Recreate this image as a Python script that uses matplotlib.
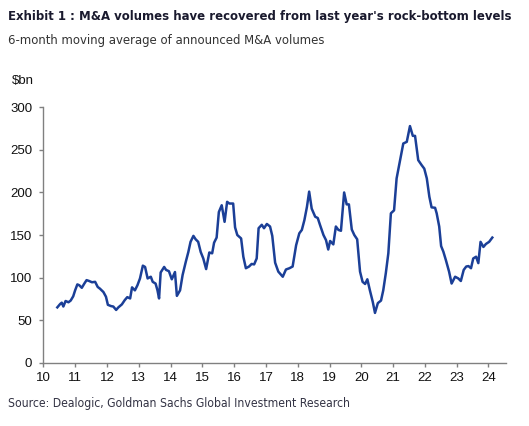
import matplotlib
matplotlib.use("Agg")
import matplotlib.pyplot as plt

# 6-month moving average of announced M&A volumes ($bn)
years = [10.44, 10.53, 10.58, 10.63, 10.70, 10.79, 10.86, 10.94, 11.00, 11.07,
         11.13, 11.21, 11.29, 11.36, 11.44, 11.53, 11.63, 11.71, 11.78, 11.89,
         11.97, 12.03, 12.13, 12.20, 12.29, 12.36, 12.47, 12.56, 12.64, 12.73,
         12.79, 12.88, 12.96, 13.04, 13.13, 13.20, 13.28, 13.38, 13.44, 13.53,
         13.59, 13.64, 13.69, 13.80, 13.86, 13.95, 14.04, 14.14, 14.20, 14.30,
         14.38, 14.48, 14.56, 14.63, 14.72, 14.79, 14.87, 14.95, 15.03, 15.12,
         15.22, 15.31, 15.37, 15.45, 15.52, 15.61, 15.70, 15.78, 15.85, 15.97,
         16.03, 16.10, 16.22, 16.29, 16.37, 16.47, 16.55, 16.63, 16.71, 16.77,
         16.87, 16.94, 17.03, 17.13, 17.20, 17.29, 17.39, 17.53, 17.63, 17.74,
         17.84, 17.95, 18.05, 18.13, 18.21, 18.29, 18.36, 18.44, 18.55, 18.63,
         18.70, 18.81, 18.89, 18.96, 19.02, 19.12, 19.20, 19.28, 19.36, 19.46,
         19.54, 19.61, 19.70, 19.78, 19.87, 19.96, 20.04, 20.12, 20.19, 20.27,
         20.36, 20.43, 20.52, 20.62, 20.69, 20.77, 20.85, 20.93, 21.03, 21.11,
         21.22, 21.32, 21.43, 21.53, 21.62, 21.69, 21.79, 21.90, 21.98, 22.06,
         22.14, 22.21, 22.32, 22.37, 22.45, 22.51, 22.58, 22.66, 22.76, 22.84,
         22.95, 23.05, 23.13, 23.22, 23.30, 23.37, 23.45, 23.52, 23.61, 23.68,
         23.75, 23.84, 23.92, 24.02, 24.12]
volumes = [65, 69, 70.5, 66, 72.5, 71, 73, 78, 85, 92,
           91, 88, 93, 97, 96, 94.5, 95, 89, 87, 83,
           77.5, 68, 66.5, 66, 62, 65, 68.5, 73.5, 77, 75.5,
           88.5, 85, 91, 99, 114, 112.5, 99, 101, 95, 93,
           85, 75.5, 106, 112.5, 109, 107.5, 98, 106.5, 78.5, 85,
           103, 118.5, 130, 142, 149, 145, 142, 130, 122.5, 110,
           129.5, 128.5, 141, 147, 177, 185, 165.5, 189, 187, 187,
           159, 150, 146, 124.5, 111, 113, 116, 115.5, 122.5, 158,
           162, 158, 163, 160, 149, 117.5, 107, 101, 109.5, 111,
           113, 138, 152, 156, 167.5, 183, 201, 181, 171.5, 170,
           162, 150, 144, 133, 143, 139, 160, 156, 155, 200,
           186, 186, 156.5, 150, 145, 107, 95, 92.5, 98, 85,
           71.5, 58.5, 70, 73, 85, 105, 128.5, 175.5, 179, 216.5,
           238, 257.5, 259.5, 278, 266.5, 266.5, 238, 232, 228, 216.5,
           195, 182.5, 182, 175.5, 160, 137, 130.5, 120.5, 107, 93,
           101, 99, 96, 109, 113, 113.5, 111, 122.5, 124.5, 117,
           142, 136, 139.5, 142, 147]

year_ticks = list(range(10, 25))
value_ticks = [0, 50, 100, 150, 200, 250, 300]

title = "Exhibit 1 : M&A volumes have recovered from last year's rock-bottom levels"
subtitle = "6-month moving average of announced M&A volumes"
source = "Source: Dealogic, Goldman Sachs Global Investment Research"

line_col = "#1b3f97"
axis_col = "#808080"

fig = plt.figure(figsize=(5.29, 4.26), dpi=100)
ax = fig.add_axes([0.0819, 0.1486, 0.8746, 0.5994])

ax.plot(years, volumes, color=line_col, lw=1.8, solid_joinstyle="round")

ax.set_xlim(10, 24.55)
ax.set_ylim(0, 300)
ax.set_xticks(year_ticks)
ax.set_xticklabels([str(y) for y in year_ticks])
ax.set_yticks(value_ticks)

for s in ["top", "right"]:
    ax.spines[s].set_visible(False)
for s in ["left", "bottom"]:
    ax.spines[s].set_color(axis_col)
    ax.spines[s].set_linewidth(1.0)
ax.tick_params(axis="both", direction="out", length=3, width=1.0,
               color=axis_col, labelsize=9.5, labelcolor="#111111",
               labelfontfamily="Liberation Sans")
ax.tick_params(axis="x", pad=4)
ax.tick_params(axis="y", pad=5)

fig.text(0.015, 0.962, title, fontsize=9.35, fontweight="bold",
         family="DejaVu Sans", fontstretch="condensed",
         color="#1a1a2e", va="center", ha="left")
fig.text(0.015, 0.906, subtitle, fontsize=9.4, family="DejaVu Sans",
         fontstretch="condensed", color="#333333", va="center", ha="left")
fig.text(0.022, 0.81, "$bn", fontsize=9.5, family="Liberation Sans",
         color="#111111", va="center", ha="left")
fig.text(0.015, 0.052, source, fontsize=8.7, family="DejaVu Sans",
         fontstretch="condensed", color="#333344", va="center", ha="left")

fig.savefig("out.png", dpi=100)
